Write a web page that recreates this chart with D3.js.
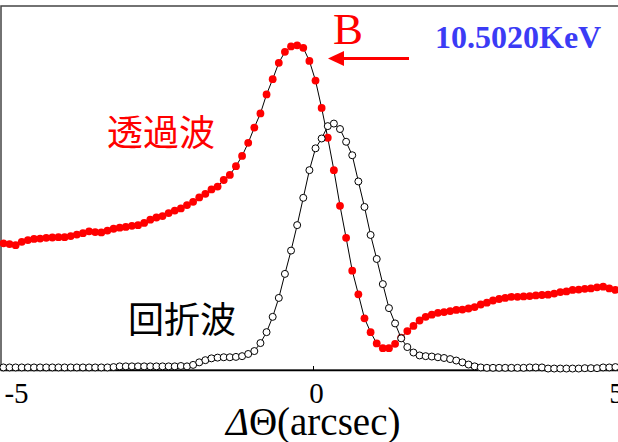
<!DOCTYPE html>
<head>
<meta charset="utf-8">
<style>
body { margin: 0; background: #fff; }
svg { display: block; }
.tick text { font-family: "Liberation Serif", serif; font-size: 29px; fill: #000; }
</style>
</head>
<body>
<script src="https://cdn.jsdelivr.net/npm/d3@7"></script>
<script>

// x grid of the scan (arcsec), one point per step
var xStart = -5.16, xStep = 0.102;

// transmitted wave (red dots)
var transmitted = [
  0.348, 0.346, 0.343, 0.352, 0.357, 0.360, 0.361, 0.363, 0.364, 0.365,
  0.365, 0.368, 0.372, 0.376, 0.381, 0.379, 0.378, 0.383, 0.388, 0.391,
  0.393, 0.396, 0.398, 0.404, 0.413, 0.419, 0.423, 0.431, 0.438, 0.444,
  0.453, 0.462, 0.474, 0.484, 0.496, 0.504, 0.522, 0.536, 0.560, 0.588,
  0.624, 0.666, 0.705, 0.757, 0.799, 0.844, 0.874, 0.889, 0.892, 0.885,
  0.849, 0.795, 0.720, 0.638, 0.549, 0.451, 0.363, 0.273, 0.208, 0.142,
  0.104, 0.073, 0.060, 0.060, 0.072, 0.089, 0.107, 0.121, 0.136, 0.146,
  0.152, 0.157, 0.159, 0.162, 0.165, 0.166, 0.169, 0.173, 0.180, 0.185,
  0.191, 0.195, 0.198, 0.201, 0.201, 0.202, 0.203, 0.205, 0.206, 0.207,
  0.210, 0.214, 0.216, 0.220, 0.221, 0.223, 0.224, 0.227, 0.229, 0.224,
  0.220
];

// diffracted wave (open circles)
var diffracted = [
  0.007, 0.007, 0.007, 0.007, 0.007, 0.007, 0.007, 0.007, 0.007, 0.007,
  0.007, 0.007, 0.007, 0.007, 0.007, 0.007, 0.007, 0.007, 0.008, 0.010,
  0.010, 0.010, 0.010, 0.010, 0.010, 0.010, 0.010, 0.010, 0.010, 0.011,
  0.010, 0.014, 0.021, 0.027, 0.032, 0.034, 0.035, 0.035, 0.036, 0.038,
  0.044, 0.052, 0.074, 0.104, 0.146, 0.198, 0.264, 0.328, 0.398, 0.473,
  0.549, 0.609, 0.636, 0.670, 0.677, 0.662, 0.627, 0.590, 0.518, 0.448,
  0.371, 0.305, 0.236, 0.170, 0.128, 0.087, 0.063, 0.048, 0.040, 0.038,
  0.037, 0.035, 0.033, 0.030, 0.026, 0.021, 0.015, 0.010, 0.007, 0.006,
  0.006, 0.006, 0.006, 0.006, 0.006, 0.006, 0.007, 0.007, 0.007, 0.004,
  0.004, 0.004, 0.004, 0.004, 0.004, 0.005, 0.005, 0.005, 0.007, 0.007,
  0.008
];

var xTicks = [-5, 0, 5];

var width = 618,
    height = 442;

var x = d3.scaleLinear().domain([-5.2, 5.2]).range([1, 625]);
var y = d3.scaleLinear().domain([0, 1]).range([370, 6]);

var svg = d3.select("body").append("svg")
    .attr("width", width)
    .attr("height", height);

// frame (right side runs off the picture)
svg.append("rect")
    .attr("x", 1).attr("y", 6)
    .attr("width", 700).attr("height", 364)
    .attr("fill", "none")
    .attr("stroke", "#444")
    .attr("stroke-width", 1.5);

var xAxis = svg.append("g")
    .attr("transform", "translate(0,370)")
    .call(d3.axisBottom(x).tickValues(xTicks).tickSize(-4).tickFormat(d3.format("d")));

xAxis.select(".domain").attr("stroke", "#000").attr("stroke-width", 1.5);
xAxis.selectAll(".tick line").attr("stroke", "#000");
xAxis.selectAll(".tick text")
    .attr("y", 33).attr("dy", 0).attr("dx", 3)
    .text(function(d) { return d < 0 ? "-" + Math.abs(d) : d; });

function pts(vals) {
  return vals.map(function(v, i) { return [xStart + i * xStep, v]; });
}

var line = d3.line()
    .x(function(d) { return x(d[0]); })
    .y(function(d) { return y(d[1]); });

var redPts = pts(transmitted),
    blackPts = pts(diffracted);

svg.append("path")
    .attr("d", line(redPts))
    .attr("fill", "none")
    .attr("stroke", "#000")
    .attr("stroke-width", 1);

svg.append("g").selectAll("circle")
    .data(redPts)
    .enter().append("circle")
    .attr("cx", function(d) { return x(d[0]); })
    .attr("cy", function(d) { return y(d[1]); })
    .attr("r", 3.9)
    .attr("fill", "#ff0000");

svg.append("path")
    .attr("d", line(blackPts))
    .attr("fill", "none")
    .attr("stroke", "#000")
    .attr("stroke-width", 1);

svg.append("g").selectAll("circle")
    .data(blackPts)
    .enter().append("circle")
    .attr("cx", function(d) { return x(d[0]); })
    .attr("cy", function(d) { return y(d[1]); })
    .attr("r", 3.5)
    .attr("fill", "#fff")
    .attr("stroke", "#000")
    .attr("stroke-width", 1);

// labels
svg.append("text")
    .attr("x", 107).attr("y", 146)
    .attr("font-family", "'Noto Sans CJK JP', sans-serif")
    .attr("font-size", 36)
    .attr("fill", "#ff0000")
    .text("透過波");

svg.append("text")
    .attr("x", 128).attr("y", 333)
    .attr("font-family", "'Noto Sans CJK JP', sans-serif")
    .attr("font-size", 36)
    .attr("fill", "#000")
    .text("回折波");

svg.append("text")
    .attr("x", 333).attr("y", 44)
    .attr("font-family", "'Liberation Serif', serif")
    .attr("font-size", 45)
    .attr("fill", "#ff0000")
    .text("B");

// arrow pointing at the transmitted peak
svg.append("line")
    .attr("x1", 409).attr("y1", 58.5)
    .attr("x2", 340).attr("y2", 58.5)
    .attr("stroke", "#ff0000")
    .attr("stroke-width", 3);

svg.append("path")
    .attr("d", "M328,58.5 L344,51 L344,66 Z")
    .attr("fill", "#ff0000");

svg.append("text")
    .attr("x", 435).attr("y", 48)
    .attr("font-family", "'Liberation Serif', serif")
    .attr("font-weight", "bold")
    .attr("font-size", 32)
    .attr("fill", "#3b3bf5")
    .text("10.5020KeV");

var title = svg.append("text")
    .attr("x", 226).attr("y", 435)
    .attr("font-family", "'Liberation Serif', serif")
    .attr("font-size", 39)
    .attr("fill", "#000");
title.append("tspan").attr("font-style", "italic").text("Δ");
title.append("tspan").text("Θ(arcsec)");

</script>
</body>
</html>
